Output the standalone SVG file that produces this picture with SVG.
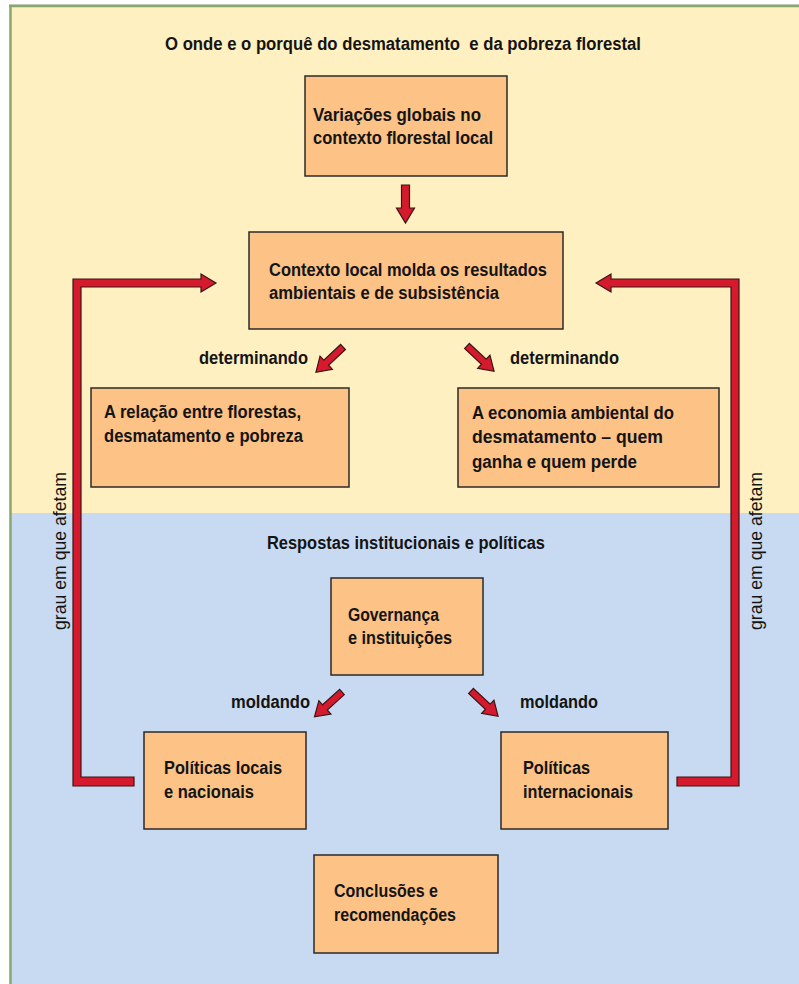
<svg xmlns="http://www.w3.org/2000/svg" width="799" height="984" viewBox="0 0 799 984">
<defs>
<style>
.bg-y{fill:#FFF0C1}
.bg-b{fill:#C8DAF1}
.box{fill:#FDC286;stroke:#2a2a2a;stroke-width:1.5}
.t{font-family:"Liberation Sans",Arial,sans-serif;font-weight:bold;font-size:18px;fill:#141414;white-space:pre}
.v{font-family:"Liberation Sans",Arial,sans-serif;font-size:18.5px;fill:#141414}
.arr{fill:#D51A2D;stroke:#3a1515;stroke-width:1.2;stroke-linejoin:miter}
</style>
<polygon id="diag" class="arr" points="0,-3.5 23,-3.5 23,-9 37,0 23,9 23,3.5 0,3.5"/>
</defs>
<rect x="0" y="0" width="799" height="984" fill="#ffffff"/>
<rect x="10" y="6" width="789" height="507" class="bg-y"/>
<rect x="10" y="513" width="789" height="471" class="bg-b"/>
<line x1="9" y1="4.5" x2="799" y2="4.5" stroke="#d4d4d4" stroke-width="1"/>
<line x1="9" y1="6" x2="799" y2="6" stroke="#86A96B" stroke-width="2.5"/>
<line x1="10.5" y1="5" x2="10.5" y2="984" stroke="#86A96B" stroke-width="2.5"/>

<text class="t" x="165" y="50" textLength="476" lengthAdjust="spacingAndGlyphs">O onde e o porquê do desmatamento  e da pobreza florestal</text>
<text class="t" x="267" y="549" textLength="278" lengthAdjust="spacingAndGlyphs">Respostas institucionais e políticas</text>

<g id="connectors">
<polygon class="arr" points="401.5,185 409.5,185 409.5,208 414.5,208 405.5,223 396.5,208 401.5,208"/>
<polygon class="arr" points="73,786 73,279 201,279 201,274 216,283 201,292 201,287 81,287 81,777 134,777 134,786"/>
<polygon class="arr" points="677,777 731,777 731,287 611,287 611,292 596,283 611,274 611,279 739,279 739,786 677,786"/>
<use href="#diag" transform="translate(343,347) rotate(137)"/>
<use href="#diag" transform="translate(467,346) rotate(43)"/>
<use href="#diag" transform="translate(342,692) rotate(138)"/>
<use href="#diag" transform="translate(471,691) rotate(43)"/>
<text class="t" x="199" y="364" textLength="109" lengthAdjust="spacingAndGlyphs">determinando</text>
<text class="t" x="510" y="364" textLength="109" lengthAdjust="spacingAndGlyphs">determinando</text>
<text class="t" x="231" y="708" textLength="79" lengthAdjust="spacingAndGlyphs">moldando</text>
<text class="t" x="520" y="708" textLength="78" lengthAdjust="spacingAndGlyphs">moldando</text>
<text class="v" transform="translate(66,630) rotate(-90)" textLength="158" lengthAdjust="spacingAndGlyphs">grau em que afetam</text>
<text class="v" transform="translate(762,630) rotate(-90)" textLength="158" lengthAdjust="spacingAndGlyphs">grau em que afetam</text>
</g>

<g id="n-variacoes">
<rect class="box" x="305" y="76" width="202" height="100"/>
<text class="t" x="313" y="121" textLength="168" lengthAdjust="spacingAndGlyphs">Variações globais no</text>
<text class="t" x="313" y="144" textLength="180" lengthAdjust="spacingAndGlyphs">contexto florestal local</text>
</g>
<g id="n-contexto">
<rect class="box" x="249" y="232" width="314" height="97"/>
<text class="t" x="269" y="276" textLength="278" lengthAdjust="spacingAndGlyphs">Contexto local molda os resultados</text>
<text class="t" x="269" y="299" textLength="230" lengthAdjust="spacingAndGlyphs">ambientais e de subsistência</text>
</g>
<g id="n-relacao">
<rect class="box" x="91" y="388" width="258" height="99"/>
<text class="t" x="104" y="418" textLength="197" lengthAdjust="spacingAndGlyphs">A relação entre florestas,</text>
<text class="t" x="104" y="442" textLength="199" lengthAdjust="spacingAndGlyphs">desmatamento e pobreza</text>
</g>
<g id="n-economia">
<rect class="box" x="458" y="388" width="261" height="99"/>
<text class="t" x="472" y="419" textLength="202" lengthAdjust="spacingAndGlyphs">A economia ambiental do</text>
<text class="t" x="472" y="443" textLength="191" lengthAdjust="spacingAndGlyphs">desmatamento – quem</text>
<text class="t" x="472" y="468" textLength="165" lengthAdjust="spacingAndGlyphs">ganha e quem perde</text>
</g>
<g id="n-governanca">
<rect class="box" x="331" y="578" width="152" height="97"/>
<text class="t" x="348" y="621" textLength="91" lengthAdjust="spacingAndGlyphs">Governança</text>
<text class="t" x="348" y="644" textLength="104" lengthAdjust="spacingAndGlyphs">e instituições</text>
</g>
<g id="n-locais">
<rect class="box" x="144" y="732" width="162" height="97"/>
<text class="t" x="164" y="774" textLength="118" lengthAdjust="spacingAndGlyphs">Políticas locais</text>
<text class="t" x="164" y="798" textLength="90" lengthAdjust="spacingAndGlyphs">e nacionais</text>
</g>
<g id="n-internacionais">
<rect class="box" x="501" y="732" width="167" height="97"/>
<text class="t" x="523" y="774" textLength="67" lengthAdjust="spacingAndGlyphs">Políticas</text>
<text class="t" x="523" y="798" textLength="110" lengthAdjust="spacingAndGlyphs">internacionais</text>
</g>
<g id="n-conclusoes">
<rect class="box" x="314" y="855" width="184" height="98"/>
<text class="t" x="334" y="897" textLength="104" lengthAdjust="spacingAndGlyphs">Conclusões e</text>
<text class="t" x="334" y="921" textLength="122" lengthAdjust="spacingAndGlyphs">recomendações</text>
</g>
</svg>
